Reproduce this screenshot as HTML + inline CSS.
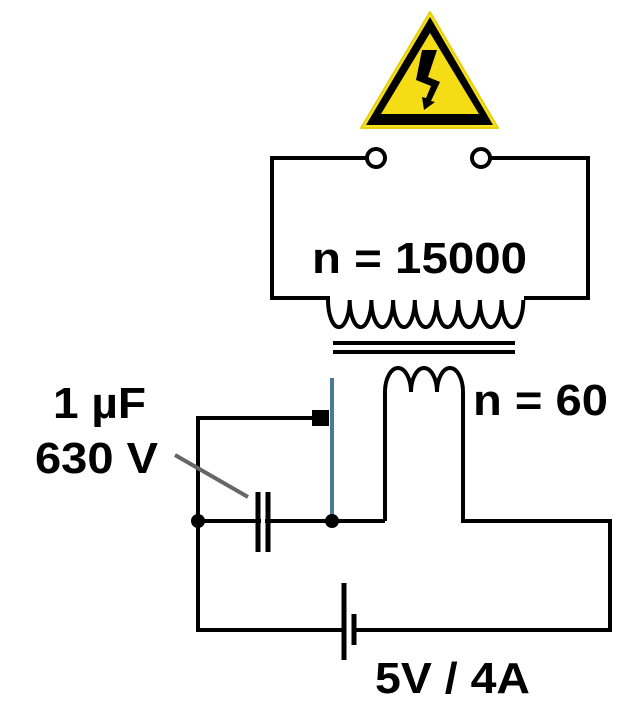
<!DOCTYPE html>
<html><head><style>html,body{margin:0;padding:0;background:#fff}svg{display:block}
text{font-family:"Liberation Sans",Arial,sans-serif;font-weight:bold;fill:#000}</style></head>
<body>
<svg width="638" height="705" viewBox="0 0 638 705" xmlns="http://www.w3.org/2000/svg">
<!-- warning sign -->
<path d="M430,12 L498,128 L361,128 Z" fill="#f7e21b" stroke="#e8cf10" stroke-width="2" stroke-linejoin="round"/>
<path d="M430,17 L493,125 L366,125 Z" fill="#000"/>
<path d="M430,33 L479,114 L381,114 Z" fill="#f5dd16"/>
<path d="M422,50 L437,50 L428,77 L440,82 L431,101 L435,102 L424,110 L422,97 L426,98 L431,86 L416,80 Z" fill="#000"/>
<g fill="none" stroke="#000" stroke-width="4">
<!-- top box -->
<polyline points="367,158 272,158 272,298 330,298"/>
<polyline points="490,158 588,158 588,298 524,298"/>
<circle cx="376" cy="158" r="9" fill="#fff"/>
<circle cx="481" cy="158" r="9" fill="#fff"/>
<!-- primary coil -->
<path d="M328,300 a10.8,27 0 0 0 21.7,0 a10.8,27 0 0 0 21.7,0 a10.8,27 0 0 0 21.7,0 a10.8,27 0 0 0 21.7,0 a10.8,27 0 0 0 21.7,0 a10.8,27 0 0 0 21.7,0 a10.8,27 0 0 0 21.7,0 a10.8,27 0 0 0 21.7,0 a10.8,27 0 0 0 21.7,0"/>
<!-- core -->
<line x1="333" y1="343" x2="515" y2="343"/>
<line x1="333" y1="352" x2="515" y2="352"/>
<!-- secondary coil -->
<path d="M385,521 L385,392 a13,24 0 0 1 26,0 a13,24 0 0 1 26,0 a13,24 0 0 1 26,0 L463,521 L610,521 L610,630 L354,630"/>
<line x1="385" y1="521" x2="198" y2="521"/>
<polyline points="344,630 198,630 198,418 318,418"/>
<!-- capacitor plates -->
<line x1="258" y1="492" x2="258" y2="552" stroke-width="5"/>
<line x1="268" y1="492" x2="268" y2="552" stroke-width="5"/>
<!-- battery plates -->
<line x1="344" y1="583" x2="344" y2="660" stroke-width="5"/>
<line x1="354" y1="614" x2="354" y2="645" stroke-width="5"/>
</g>
<rect x="261" y="515" width="4" height="12" fill="#fff"/>
<rect x="347" y="624" width="4" height="12" fill="#fff"/>
<line x1="332" y1="378" x2="332" y2="521" stroke="#4a7a98" stroke-width="4"/>
<rect x="312" y="410" width="17" height="16" fill="#000"/>
<circle cx="198" cy="521" r="7" fill="#000"/>
<circle cx="332" cy="521" r="7" fill="#000"/>
<line x1="175" y1="455" x2="248" y2="497" stroke="#666" stroke-width="4"/>
<text x="312" y="273" font-size="44" textLength="215" lengthAdjust="spacingAndGlyphs">n = 15000</text>
<text x="473" y="415" font-size="44" textLength="135" lengthAdjust="spacingAndGlyphs">n = 60</text>
<text x="53" y="418" font-size="44" textLength="93" lengthAdjust="spacingAndGlyphs">1 µF</text>
<text x="35" y="473" font-size="44" textLength="123" lengthAdjust="spacingAndGlyphs">630 V</text>
<text x="375" y="693" font-size="44" textLength="155" lengthAdjust="spacingAndGlyphs">5V / 4A</text>
</svg>
</body></html>
